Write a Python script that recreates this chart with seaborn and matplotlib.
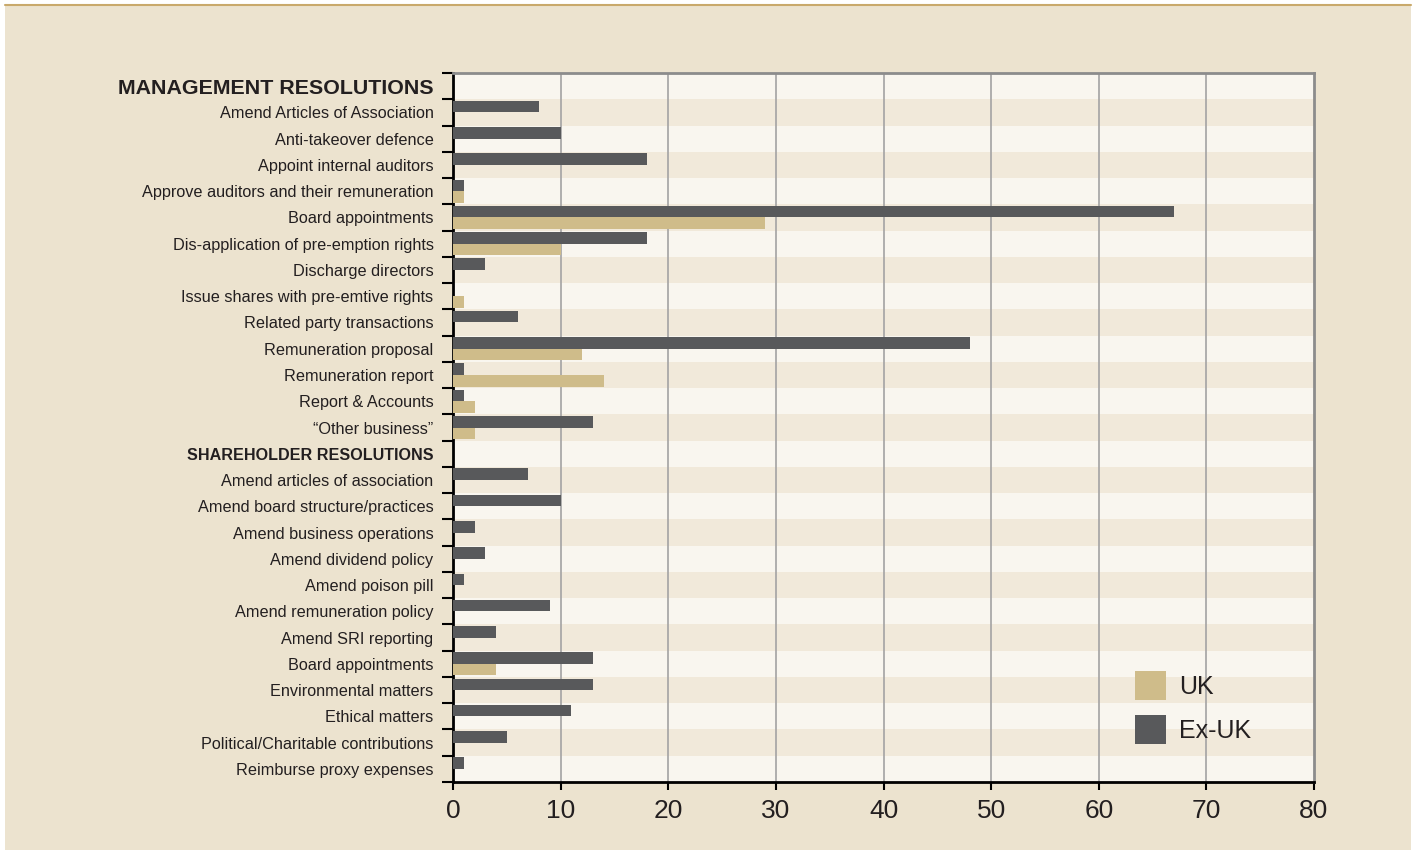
import numpy as np
import pandas as pd
import seaborn as sns
import matplotlib.pyplot as plt
from matplotlib.patches import Rectangle, Patch

sns.set_theme(style="white")
plt.rcParams['font.family'] = ['Liberation Sans', 'DejaVu Sans']

# ---- data ----
mgmt_labels = ["Amend Articles of Association", "Anti-takeover defence", "Appoint internal auditors",
               "Approve auditors and their remuneration", "Board appointments",
               "Dis-application of pre-emption rights", "Discharge directors",
               "Issue shares with pre-emtive rights", "Related party transactions",
               "Remuneration proposal", "Remuneration report", "Report & Accounts",
               "\u201cOther business\u201d"]
mgmt_exuk = [8, 10, 18, 1, 67, 18, 3, 0, 6, 48, 1, 1, 13]
mgmt_uk = [0, 0, 0, 1, 29, 10, 0, 1, 0, 12, 14, 2, 2]

sh_labels = ["Amend articles of association", "Amend board structure/practices",
             "Amend business operations", "Amend dividend policy", "Amend poison pill",
             "Amend remuneration policy", "Amend SRI reporting", "Board appointments",
             "Environmental matters", "Ethical matters", "Political/Charitable contributions",
             "Reimburse proxy expenses"]
sh_exuk = [7, 10, 2, 3, 1, 9, 4, 13, 13, 11, 5, 1]
sh_uk = [0, 0, 0, 0, 0, 0, 0, 4, 0, 0, 0, 0]

headers = ["MANAGEMENT RESOLUTIONS", "SHAREHOLDER RESOLUTIONS"]
xticks = [0, 10, 20, 30, 40, 50, 60, 70, 80]

# build row table (headers get no bars)
row_labels = [headers[0]] + mgmt_labels + [headers[1]] + sh_labels
exuk = [np.nan] + mgmt_exuk + [np.nan] + sh_exuk
uk = [np.nan] + mgmt_uk + [np.nan] + sh_uk
n = len(row_labels)
rows = list(range(n))
df = pd.DataFrame({
    "row": rows * 2,
    "series": ["Ex-UK"] * n + ["UK"] * n,
    "value": exuk + uk,
})

c_exuk = "#58595b"
c_uk = "#cfbc8a"
bg = "#ece3cf"
light = "#f9f6ef"
dark = "#f1e9da"

fig = plt.figure(figsize=(14.16, 8.5), dpi=100, facecolor="white")
fig.patches.append(Rectangle((5 / 1416, 0), 1406 / 1416, 845 / 850, transform=fig.transFigure,
                             facecolor=bg, edgecolor="none", zorder=-10))
fig.lines.append(plt.Line2D([5 / 1416, 1411 / 1416], [845 / 850, 845 / 850], transform=fig.transFigure,
                            color="#c9a96b", lw=1.5))
ax = fig.add_axes([453 / 1416, 68 / 850, 861 / 1416, 709 / 850])

sns.barplot(data=df, x="value", y="row", hue="series", hue_order=["Ex-UK", "UK"],
            order=rows, orient="h", palette=[c_exuk, c_uk], width=0.88,
            errorbar=None, linewidth=0, saturation=1, legend=False, ax=ax, zorder=3)

# alternating stripes
for i in rows:
    ax.axhspan(i - 0.5, i + 0.5, color=light if i % 2 == 0 else dark, zorder=0, lw=0)

ax.set_xlim(0, 80)
ax.set_ylim(n - 0.5, -0.5)
ax.set_xticks(xticks)
ax.set_xticklabels([str(t) for t in xticks], fontsize=19, color="#231f20")
for x in xticks[1:-1]:
    ax.axvline(x, color="#a3a3a3", lw=1.2, zorder=1)

ax.set_yticks(rows)
ax.set_yticklabels(row_labels)
for i, t in enumerate(ax.get_yticklabels()):
    t.set_color("#231f20")
    if i == 0:
        t.set_fontsize(15.4)
        t.set_fontweight("bold")
    elif i == len(mgmt_labels) + 1:
        t.set_fontsize(11.6)
        t.set_fontweight("bold")
    else:
        t.set_fontsize(11.7)
ax.set_yticks(np.arange(-0.5, n, 1), minor=True)
ax.tick_params(axis="y", which="major", length=0, pad=14)
ax.tick_params(axis="y", which="minor", length=8, width=1.5, color="black", left=True)
ax.tick_params(axis="x", which="major", length=6, width=1.5, color="black", bottom=True, pad=6)
ax.set_xlabel("")
ax.set_ylabel("")

for s in ["left", "bottom"]:
    ax.spines[s].set_color("black")
    ax.spines[s].set_linewidth(2)
for s in ["top", "right"]:
    ax.spines[s].set_color("#8c8c8c")
    ax.spines[s].set_linewidth(2)
    ax.spines[s].set_visible(True)

handles = [Patch(facecolor=c_uk, edgecolor="none"), Patch(facecolor=c_exuk, edgecolor="none")]
ax.legend(handles, ["UK", "Ex-UK"], loc="lower left", bbox_to_anchor=(0.792, 0.054),
          frameon=False, fontsize=18, handlelength=1.25, handleheight=1.4,
          labelspacing=0.6, handletextpad=0.5, borderpad=0, borderaxespad=0,
          labelcolor="#231f20")

fig.savefig("out.png", dpi=100, facecolor=fig.get_facecolor())
